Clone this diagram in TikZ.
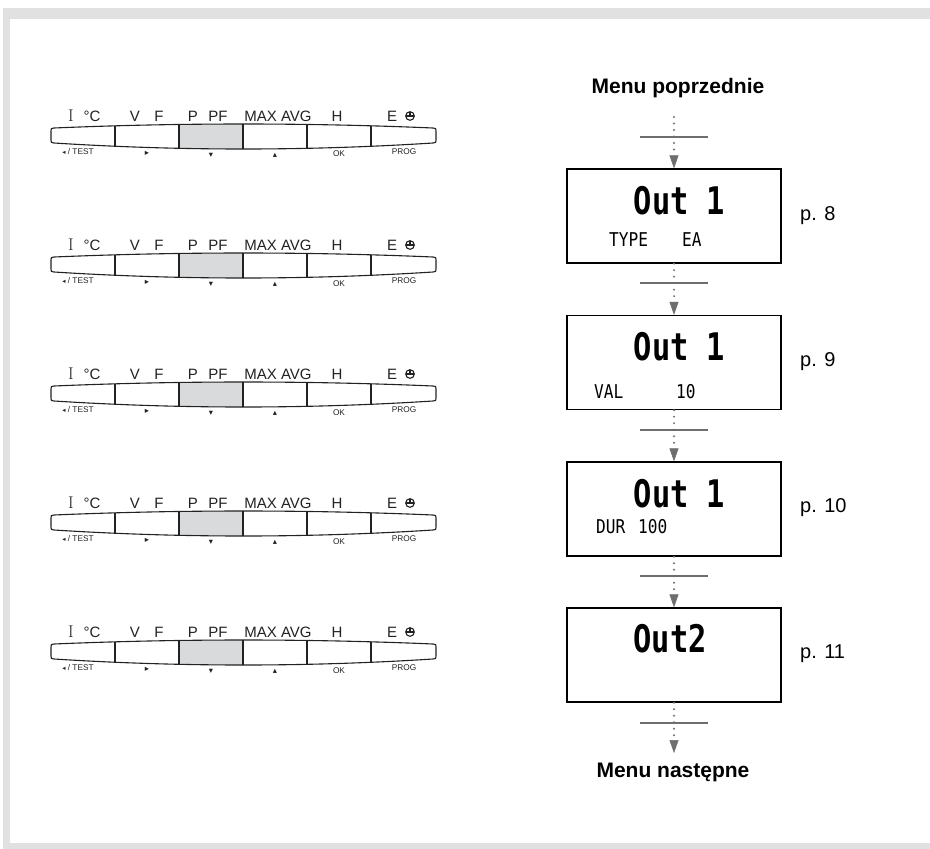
\documentclass[tikz,border=0pt]{standalone}
\usepackage{fontspec}
\usepackage{graphicx}
\setmainfont{Liberation Sans}
\newfontfamily\lmrom{Latin Modern Roman}
\newfontfamily\dvsans{DejaVu Sans}
\newfontfamily\lcdfont{DejaVu Sans Mono}
\usetikzlibrary{arrows.meta,calc}
\definecolor{framegray}{HTML}{E1E1E1}
\definecolor{cellgray}{HTML}{D9DADB}
\definecolor{arrgray}{HTML}{6E6E6E}
\definecolor{ink}{HTML}{222222}
\def\barpath{(51,131) .. controls (51,128.3) .. (54,128) .. controls (180.3,122.67) and (306.7,122.67) .. (433,128) .. controls (436,128.3) .. (436,131) -- (436,140) .. controls (436,142.7) .. (433,143) .. controls (306.7,151) and (180.3,151) .. (54,143) .. controls (51,142.7) .. (51,140) -- cycle}
\newcommand\keybar[1]{%
\begin{scope}[shift={(0,#1)}]
  \begin{scope}
    \clip \barpath;
    \fill[cellgray] (179,110) rectangle (243,160);
    \foreach \xx in {115,179,243,307,371} \draw[barline] (\xx,110) -- (\xx,160);
  \end{scope}
  \draw[barline] \barpath;
  \node[toplbl, font=\lmrom\fontsize{17}{17}\selectfont] (i#1) at (71,121) {I};
  \node[toplbl] (c#1) at (92,121) {°C};
  \node[toplbl] (v#1) at (135,121) {V};
  \node[toplbl] (f#1) at (159,121) {F};
  \node[toplbl] (p#1) at (193,121) {P};
  \node[toplbl] (pf#1) at (218,121) {PF};
  \node[toplbl] (m#1) at (278,121) {MAX AVG};
  \node[toplbl] (h#1) at (337,121) {H};
  \node[toplbl] (e#1) at (392,121) {E};
  \draw[line width=1.1pt, draw=ink] (410,116) circle (4.3);
  \draw[line width=1.1pt, draw=ink] (405.7,116) -- (414.3,116) (410,111.7) -- (410,116);
  \node[botlbl] (t#1) at (78,148.5) {{\dvsans\fontsize{6.5}{6.5}\selectfont ◂} / TEST};
  \node[botlbl] (r#1) at (147,151.5) {\dvsans ▸};
  \node[botlbl] (d#1) at (211,153) {\dvsans ▾};
  \node[botlbl] (u#1) at (275,153) {\dvsans ▴};
  \node[botlbl] (ok#1) at (339,151) {OK};
  \node[botlbl] (pg#1) at (404,148.5) {PROG};
\end{scope}}
\begin{document}
\begin{tikzpicture}[x=1pt,y=-1pt,
  barline/.style={line width=1.1pt, draw=ink},
  toplbl/.style={anchor=base, inner sep=0pt, font=\fontsize{15}{15}\selectfont, text=ink},
  botlbl/.style={anchor=north, inner sep=0pt, font=\fontsize{8.3}{9}\selectfont, text=ink},
  dispbox/.style={draw=black, line width=1.3pt, minimum width=214pt, minimum height=94pt, inner sep=0pt},
  dotline/.style={draw=arrgray, line width=2.2pt, line cap=round, dash pattern=on 0pt off 6.5pt, -{Triangle[width=9pt,length=13pt,line width=0.6pt]}, arrgray},
  hline/.style={draw=arrgray, line width=1.8pt},
  bigtxt/.style={anchor=base, inner sep=0pt, font=\lcdfont\bfseries\fontsize{38}{38}\selectfont},
  smalltxt/.style={anchor=base west, inner sep=0pt, font=\lcdfont\fontsize{19}{19}\selectfont},
  pagetxt/.style={anchor=base west, inner sep=0pt, font=\fontsize{20}{20}\selectfont},
  menutxt/.style={inner sep=0pt, font=\bfseries\fontsize{21}{22}\selectfont}
]
\useasboundingbox (0,0) rectangle (930,849);
\fill[white] (0,0) rectangle (930,849);
\fill[framegray] (3,8) rectangle (930,849);
\fill[white] (10,19) rectangle (930,843);

\keybar{0}
\keybar{129}
\keybar{258}
\keybar{387}
\keybar{516}

% display boxes
\node[dispbox] (b1) at (674,216) {};
\node[dispbox] (b2) at (674,362.5) {};
\node[dispbox] (b3) at (674,509) {};
\node[dispbox] (b4) at (674,655) {};

\node[bigtxt] (o1) at (679.5,214) {\scalebox{0.8}[1]{Out 1}};
\node[smalltxt] (ty) at (609,246) {\scalebox{0.85}[1]{TYPE}};
\node[smalltxt] (ea) at (682,246) {\scalebox{0.85}[1]{EA}};

\node[bigtxt] (o2) at (679.5,360) {\scalebox{0.8}[1]{Out 1}};
\node[smalltxt] (va) at (594,398) {\scalebox{0.85}[1]{VAL}};
\node[smalltxt] (vn) at (676,398) {\scalebox{0.85}[1]{10}};

\node[bigtxt] (o3) at (679.5,507) {\scalebox{0.8}[1]{Out 1}};
\node[smalltxt] (du) at (596,533) {\scalebox{0.85}[1]{DUR}};
\node[smalltxt] (dn) at (638,533) {\scalebox{0.85}[1]{100}};

\node[bigtxt] (o4) at (670,652) {\scalebox{0.8}[1]{Out2}};

\node[pagetxt] (p8) at (800,220) {p. 8};
\node[pagetxt] (p9) at (800,366) {p. 9};
\node[pagetxt] (p10) at (800,512) {p. 10};
\node[pagetxt] (p11) at (800,658) {p. 11};

\node[menutxt] (mp) at (678,88) {Menu poprzednie};
\node[menutxt] (mn) at (673,772) {Menu następne};

\coordinate (s0) at (674,117);
\coordinate (e5) at (674,753);
\coordinate (h0) at (674,137);
\coordinate (h1) at (674,283);
\coordinate (h2) at (674,430);
\coordinate (h3) at (674,576);
\coordinate (h4) at (674,722.7);
\foreach \hh in {h0,h1,h2,h3,h4} \draw[hline] ($(\hh)+(-34,0)$) -- ($(\hh)+(34,0)$);

\draw[dotline] (s0) -- (b1.north);
\draw[dotline] (b1.south) -- (b2.north);
\draw[dotline] (b2.south) -- (b3.north);
\draw[dotline] (b3.south) -- (b4.north);
\draw[dotline] (b4.south) -- (e5);
\end{tikzpicture}
\end{document}
